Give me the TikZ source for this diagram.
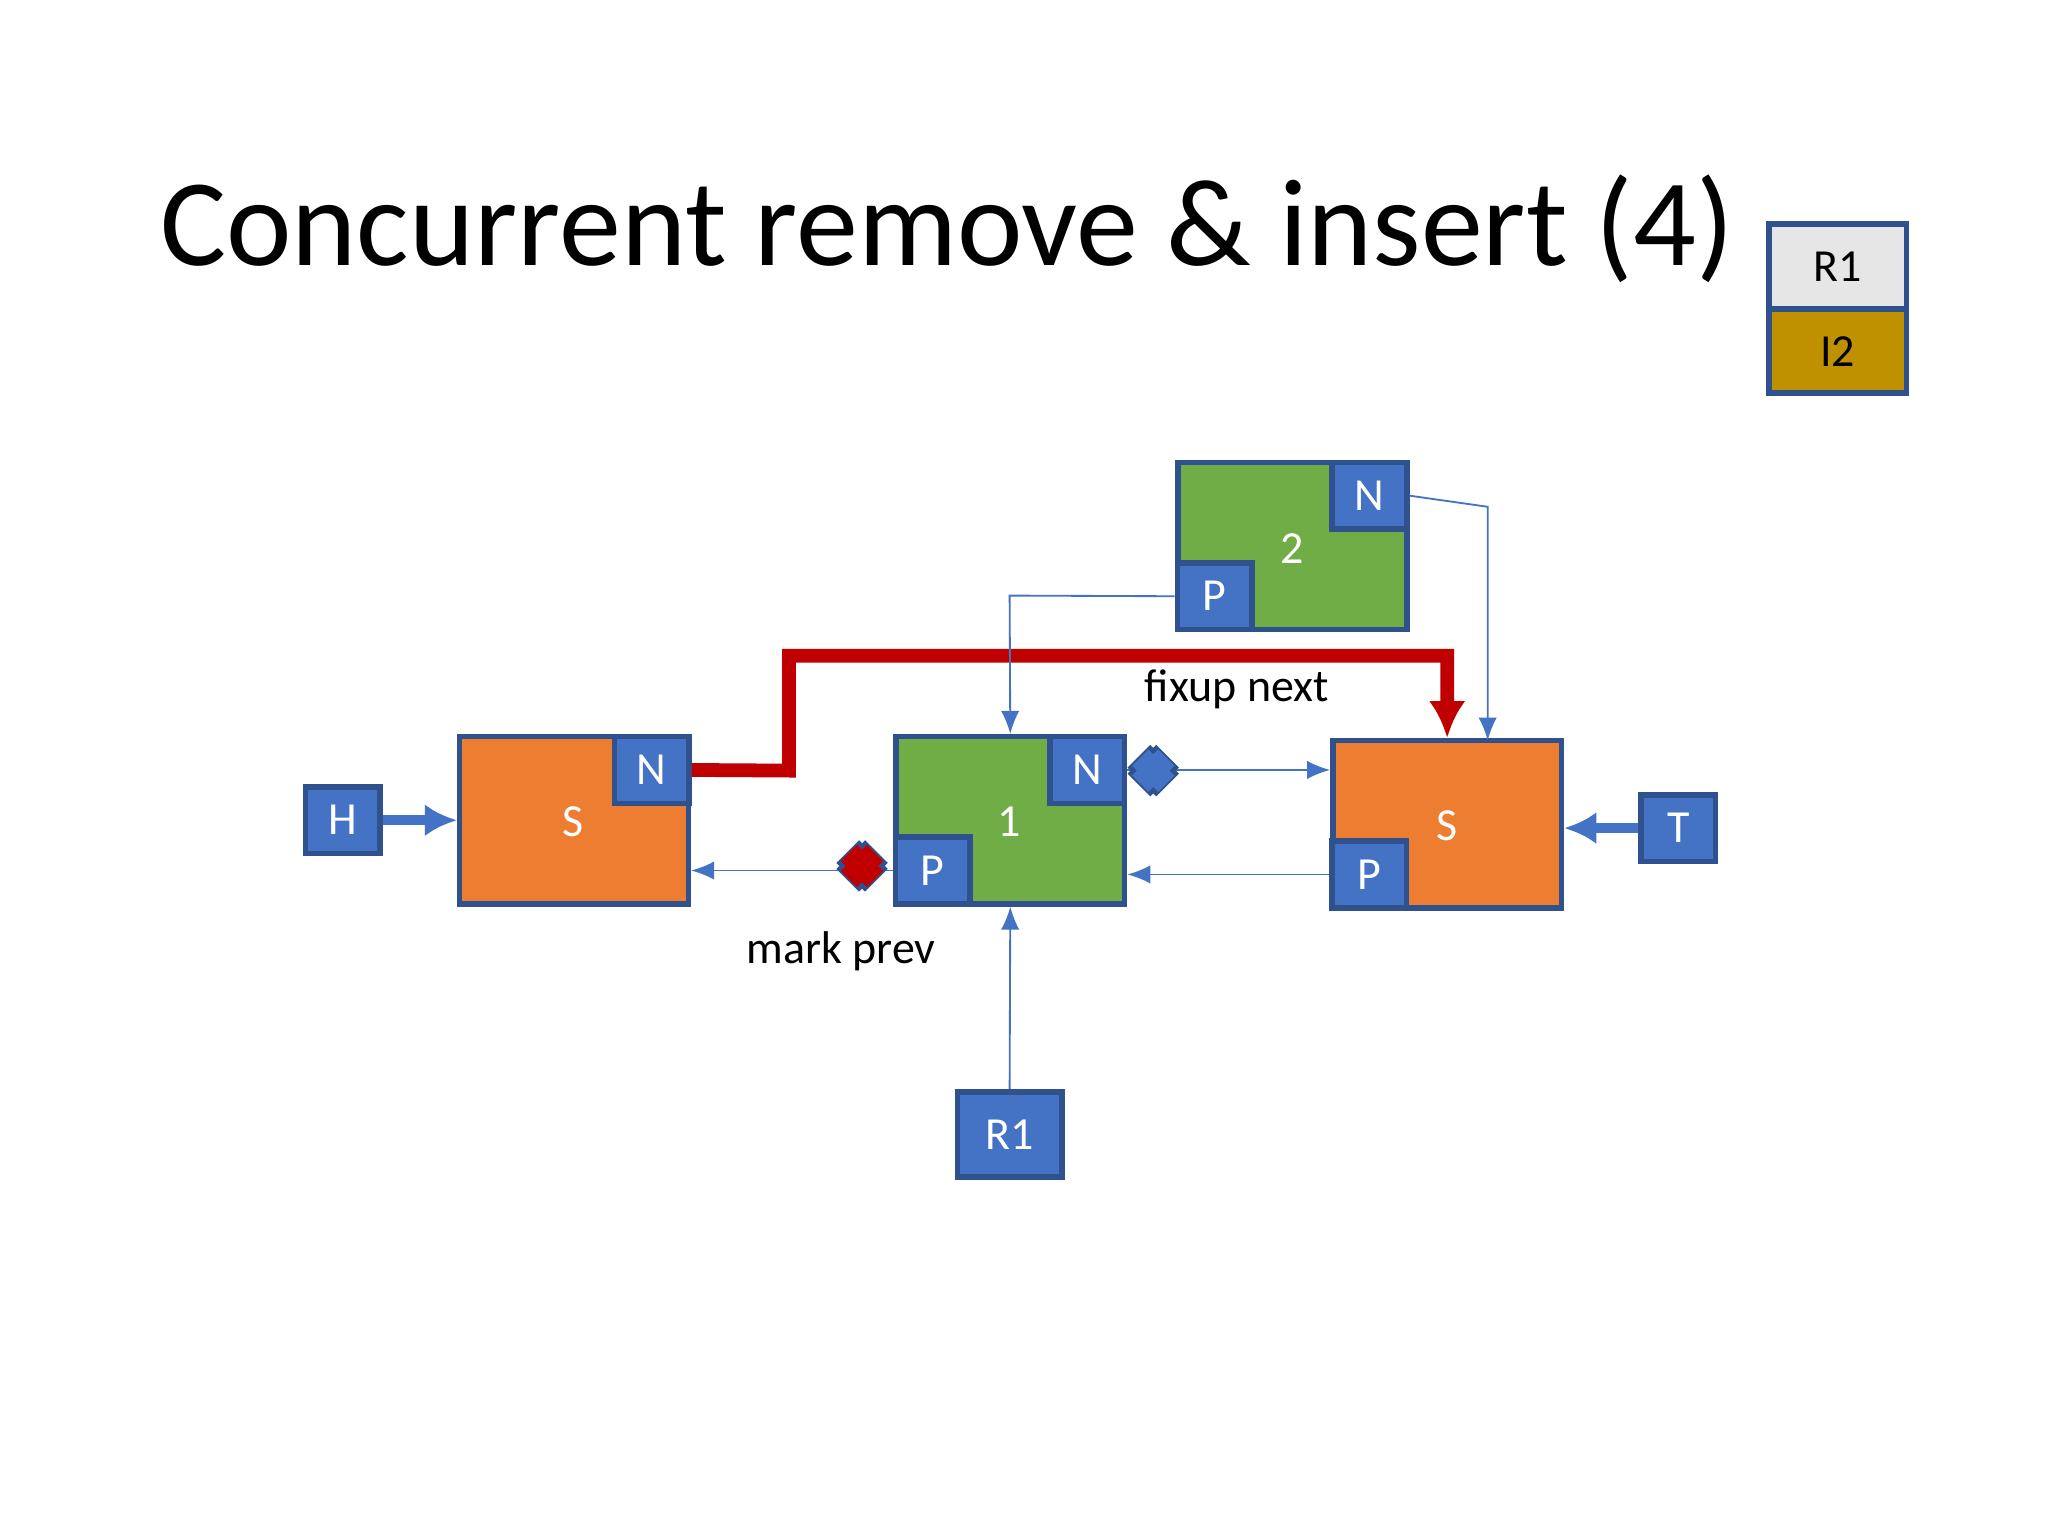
\documentclass[tikz,border=0pt]{standalone}
\usepackage{fontspec}
\setmainfont{Carlito}
\usetikzlibrary{arrows.meta}
\definecolor{orng}{HTML}{ED7D31}
\definecolor{grn}{HTML}{70AD47}
\definecolor{blu}{HTML}{4472C4}
\definecolor{bord}{HTML}{2F528F}
\definecolor{rd}{HTML}{C00000}
\definecolor{lgrey}{HTML}{E7E6E6}
\definecolor{gold}{HTML}{BF9000}
\begin{document}
\begin{tikzpicture}[x=0.01cm,y=-0.01cm,
  big/.style={draw=bord,line width=1.2pt,minimum width=175\pgflinewidth,inner sep=0,
    minimum width=1.75cm,minimum height=1.28cm,text=white,font=\fontsize{11}{12}\selectfont},
  sm/.style={draw=bord,line width=1.2pt,fill=blu,inner sep=0,minimum width=0.57cm,
    minimum height=0.51cm,text=white,font=\fontsize{10}{12}\selectfont},
  thin/.style={blu,line width=0.4pt,-{Latex[length=5pt,width=4pt]}},
  thick/.style={blu,line width=2.2pt,-{Latex[length=7pt,width=7pt]}},
  lbl/.style={font=\fontsize{10}{12}\selectfont}]
\useasboundingbox (0,0) rectangle (1568,1176);
\fill[white] (0,0) rectangle (1568,1176);
\node (title) at (725,175) {\fontsize{27}{30}\selectfont Concurrent remove \& insert (4)};
% legend
\node[draw=bord,line width=1.2pt,fill=lgrey,minimum width=1.05cm,minimum height=0.65cm,inner sep=0,font=\fontsize{10}{12}\selectfont] (LR) at (1407,204) {R1};
\node[draw=bord,line width=1.2pt,fill=gold,minimum width=1.05cm,minimum height=0.64cm,inner sep=0,font=\fontsize{10}{12}\selectfont] (LI) at (1407,269) {I2};
% big nodes
\node[big,fill=grn] (n2) at (989.5,418) {};
\node[text=white,lbl] at (989,420) {2};
\node[sm] (n2N) at (1048.5,379.5) {N};
\node[sm] (n2P) at (930,456.5) {P};
\node[big,fill=orng] (sl) at (439.5,628) {};
\node[text=white,lbl] at (439,629) {S};
\node[sm] (slN) at (499,589.5) {N};
\node[big,fill=grn] (n1) at (773.5,628) {};
\node[text=white,lbl] at (773,629) {1};
\node[sm] (n1N) at (832.5,589.5) {N};
\node[sm] (n1P) at (714,666.5) {P};
\node[big,fill=orng] (sr) at (1108,631) {};
\node[text=white,lbl] at (1108,632) {S};
\node[sm] (srP) at (1048.5,669.5) {P};
\node[sm] (H) at (262.5,628) {H};
\node[sm] (T) at (1285,634) {T};
\node[sm,minimum width=0.8cm,minimum height=0.65cm] (R1) at (773,868.5) {R1};
% connectors
\draw[thick] (H) -- (sl.west |- H);
\draw[thick] (T) -- (sr.east |- T);
\draw[rd,line width=3pt,-{Latex[length=8pt,width=8pt]}] (slN.east) -- (604,590) -- (604,502) -- (1108,502) -- (sr.north);
\draw[thin] (n2P.west) -- (773,456) -- (n1.north);
\draw[thin] (n2N.east) -- (1139,388) -- (1139,567);
\draw[thin] (n1N.east) -- (sr.west |- n1N.east);
\draw[thin] (srP.west) -- (n1.east |- srP.west);
\draw[thin] (n1P.west) -- (sl.east |- n1P.west);
\draw[thin] (R1.north) -- (n1.south);
% crosses
\foreach \cx/\cy/\c in {883/590/blu,660/663/rd}{
  \draw[bord,line width=7pt] (\cx-11,\cy-11) -- (\cx+11,\cy+11) (\cx-11,\cy+11) -- (\cx+11,\cy-11);
  \draw[\c,line width=5pt] (\cx-10,\cy-10) -- (\cx+10,\cy+10) (\cx-10,\cy+10) -- (\cx+10,\cy-10);
}
\node[lbl] (fx) at (947,528) {fixup next};
\node[lbl] (mp) at (644,728) {mark prev};
\end{tikzpicture}
\end{document}
